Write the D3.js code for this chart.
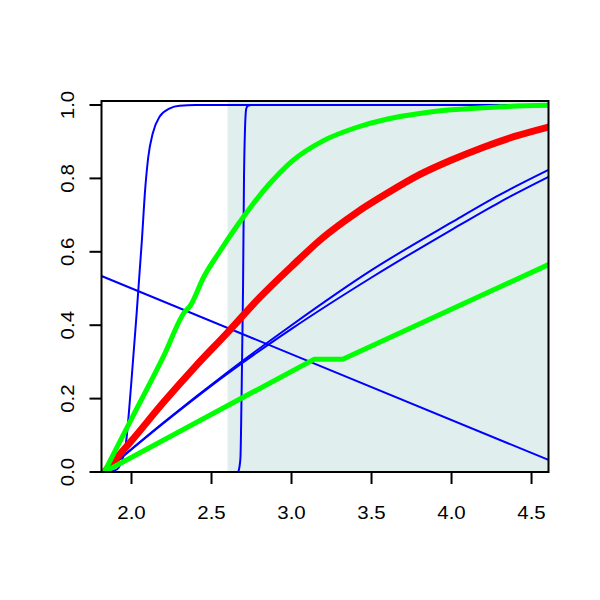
<!DOCTYPE html>
<html>
<head>
<meta charset="utf-8">
<script src="https://cdn.jsdelivr.net/npm/d3@7"></script>
<style>
  html, body { margin: 0; padding: 0; background: #ffffff; }
  svg { display: block; }
  text { font-family: "Liberation Sans", Arial, Helvetica, sans-serif; }
</style>
</head>
<body>
<svg id="chart" width="600" height="600"></svg>
<script>
// ---- data ----
const xTicks = [2.0, 2.5, 3.0, 3.5, 4.0, 4.5];
const yTicks = [0.0, 0.2, 0.4, 0.6, 0.8, 1.0];
const xTickLabels = ["2.0", "2.5", "3.0", "3.5", "4.0", "4.5"];
const yTickLabels = ["0.0", "0.2", "0.4", "0.6", "0.8", "1.0"];

const shadeStart = 2.6;

const blueCdf1X = [1.83, 1.9, 1.94, 1.97, 1.99, 2.0, 2.03, 2.065, 2.085, 2.105, 2.133, 2.175, 2.24, 2.3, 2.4, 4.606];
const blueCdf1Y = [0, 0.005, 0.03, 0.096, 0.196, 0.25, 0.42, 0.632, 0.768, 0.859, 0.923, 0.968, 0.991, 0.998, 1, 1];

const blueCdf2X = [1.83, 2.665, 2.675, 2.681, 2.6875, 2.697, 2.703, 2.709, 2.717, 2.727, 2.75, 4.606];
const blueCdf2Y = [0, 0, 0.015, 0.04, 0.2, 0.5, 0.8, 0.93, 0.99, 0.998, 1, 1];

const blueDescX = [1.8125, 4.606];
const blueDescY = [0.534, 0.033];

const blueRiseX = [1.83, 2.2, 2.6, 3.0, 3.5, 4.0, 4.3, 4.606];
const blueRise1Y = [0, 0.135, 0.272, 0.40, 0.55, 0.68, 0.755, 0.823];
const blueRise2Y = [0, 0.133, 0.268, 0.39, 0.53, 0.66, 0.735, 0.804];

const redX = [1.83, 2.0, 2.2, 2.4, 2.6, 2.8, 3.0, 3.2, 3.4, 3.6, 3.8, 4.0, 4.2, 4.4, 4.606];
const redY = [0, 0.085, 0.19, 0.288, 0.38, 0.475, 0.56, 0.64, 0.705, 0.76, 0.81, 0.85, 0.885, 0.915, 0.94];

const greenUpX = [1.83, 2.0, 2.2, 2.33, 2.37, 2.45, 2.55, 2.65, 2.75, 2.86, 3.0, 3.2, 3.4, 3.6, 3.8, 4.0, 4.3, 4.606];
const greenUpY = [0, 0.145, 0.315, 0.435, 0.455, 0.53, 0.6, 0.665, 0.725, 0.784, 0.846, 0.903, 0.938, 0.962, 0.977, 0.987, 0.995, 0.999];

const greenLoX = [1.83, 3.14, 3.32, 4.606];
const greenLoY = [0, 0.307, 0.307, 0.565];

// ---- layout ----
const svg = d3.select("#chart");
const pLeft = 101.5, pRight = 548.5, pTop = 101, pBottom = 472;

const x = d3.scaleLinear().domain([1.8125, 4.606]).range([pLeft, pRight]);
const y = d3.scaleLinear().domain([0, 1]).range([pBottom, 105]);

svg.append("defs").append("clipPath").attr("id", "plotClip")
  .append("rect").attr("x", pLeft).attr("y", pTop)
  .attr("width", pRight - pLeft).attr("height", pBottom - pTop);

const plot = svg.append("g").attr("clip-path", "url(#plotClip)");

// shaded region
plot.append("rect")
  .attr("x", x(shadeStart)).attr("y", pTop)
  .attr("width", pRight - x(shadeStart)).attr("height", pBottom - pTop)
  .attr("fill", "#e0eeee");

function series(xs, ys) { return xs.map((v, i) => [v, ys[i]]); }

const lineSmooth = d3.line().x(d => x(d[0])).y(d => y(d[1])).curve(d3.curveMonotoneX);
const lineStraight = d3.line().x(d => x(d[0])).y(d => y(d[1]));

const draws = [
  { d: series(blueDescX, blueDescY), c: "#0000ff", w: 2, gen: lineStraight },
  { d: series(blueRiseX, blueRise1Y), c: "#0000ff", w: 2, gen: lineSmooth },
  { d: series(blueRiseX, blueRise2Y), c: "#0000ff", w: 2, gen: lineSmooth },
  { d: series(blueCdf1X, blueCdf1Y), c: "#0000ff", w: 2, gen: lineSmooth },
  { d: series(blueCdf2X, blueCdf2Y), c: "#0000ff", w: 2, gen: lineSmooth },
  { d: series(redX, redY), c: "#ff0000", w: 7, gen: lineSmooth },
  { d: series(greenUpX, greenUpY), c: "#00ff00", w: 5, gen: lineSmooth },
  { d: series(greenLoX, greenLoY), c: "#00ff00", w: 5, gen: lineStraight }
];

draws.forEach(s => {
  plot.append("path")
    .attr("d", s.gen(s.d))
    .attr("fill", "none")
    .attr("stroke", s.c)
    .attr("stroke-width", s.w)
    .attr("stroke-linecap", "round")
    .attr("stroke-linejoin", "round");
});

// box
svg.append("rect")
  .attr("x", pLeft).attr("y", pTop)
  .attr("width", pRight - pLeft).attr("height", pBottom - pTop)
  .attr("fill", "none").attr("stroke", "#000").attr("stroke-width", 2);

// x axis ticks
const gx = svg.append("g");
xTicks.forEach((t, i) => {
  gx.append("line")
    .attr("x1", x(t)).attr("x2", x(t))
    .attr("y1", pBottom).attr("y2", pBottom + 12)
    .attr("stroke", "#000").attr("stroke-width", 2);
  gx.append("text")
    .attr("transform", `translate(${x(t)},518.5) scale(1.17,1)`)
    .attr("text-anchor", "middle")
    .attr("font-size", 17.5)
    .attr("fill", "#000")
    .text(xTickLabels[i]);
});

// y axis ticks
const gy = svg.append("g");
yTicks.forEach((t, i) => {
  gy.append("line")
    .attr("x1", pLeft).attr("x2", pLeft - 12)
    .attr("y1", y(t)).attr("y2", y(t))
    .attr("stroke", "#000").attr("stroke-width", 2);
  gy.append("text")
    .attr("transform", `translate(73.5,${y(t)}) rotate(-90) scale(1.17,1)`)
    .attr("text-anchor", "middle")
    .attr("font-size", 17.5)
    .attr("fill", "#000")
    .text(yTickLabels[i]);
});
</script>
</body>
</html>
